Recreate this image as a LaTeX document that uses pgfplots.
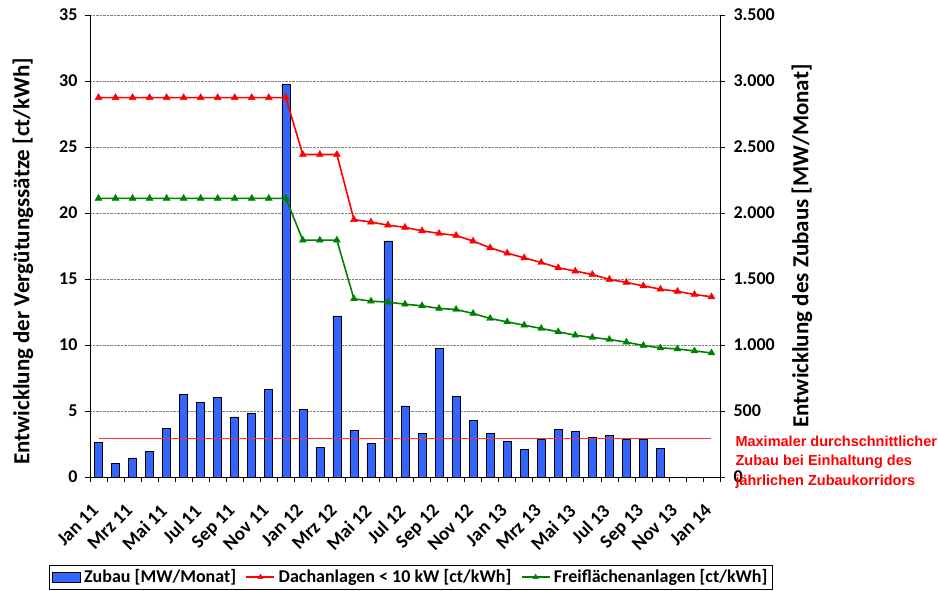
\documentclass[border=0pt]{standalone}
\usepackage{pgfplots}
\pgfplotsset{compat=1.18}
\usepackage{pgfplotstable}
\usepackage{fontspec}
\setmainfont{Carlito}
\newfontfamily\arial{Liberation Sans}
\definecolor{barblue}{RGB}{51,102,255}
\definecolor{dgreen}{RGB}{0,128,0}

\pgfplotstableread{
x val
0 260
1 100
2 144
3 195
4 371
5 627
6 566
7 606
8 455
9 480
10 662
11 2975
12 515
13 227
14 1220
15 354
16 253
17 1788
18 538
19 329
20 973
21 609
22 430
23 329
24 268
25 210
26 286
27 361
28 346
29 303
30 313
31 286
32 286
33 217
}\zubau

\pgfplotstableread{
x dach frei
0 28.74 21.11
1 28.74 21.11
2 28.74 21.11
3 28.74 21.11
4 28.74 21.11
5 28.74 21.11
6 28.74 21.11
7 28.74 21.11
8 28.74 21.11
9 28.74 21.11
10 28.74 21.11
11 28.74 21.11
12 24.43 17.94
13 24.43 17.94
14 24.43 17.94
15 19.50 13.50
16 19.31 13.32
17 19.08 13.25
18 18.91 13.09
19 18.65 12.97
20 18.45 12.77
21 18.30 12.69
22 17.87 12.39
23 17.36 12.01
24 16.96 11.75
25 16.60 11.50
26 16.25 11.25
27 15.85 11.00
28 15.60 10.74
29 15.34 10.57
30 14.97 10.42
31 14.74 10.21
32 14.48 9.96
33 14.23 9.78
34 14.06 9.70
35 13.83 9.55
36 13.65 9.40
}\tarif

\pgfplotstableread{
x val
0 291.7
36 291.7
}\korridor

\begin{document}
\begin{tikzpicture}
\pgfplotsset{
  common/.style={
    scale only axis, width=630pt, height=462pt,
    xmin=-0.5, xmax=36.5,
    tick align=outside,
    major tick length=5pt, minor tick length=5pt,
    /pgf/number format/assume math mode=true,
    tick label style={font=\bfseries\fontsize{18}{18}\selectfont},
    label style={font=\bfseries\fontsize{23}{23}\selectfont},
    axis line style={black, line width=0.8pt},
    tick style={black, line width=0.6pt},
    clip mode=individual,
  }
}
\begin{axis}[common,
  axis y line*=right, axis x line*=bottom,
  ymin=0, ymax=3500, ytick={0,500,...,3500},
  ymajorgrids, grid style={gray, densely dotted, line width=0.6pt},
  yticklabel style={/pgf/number format/1000 sep={.}, xshift=5pt},
  xtick={0,2,...,36},
  xticklabels={Jan 11,Mrz 11,Mai 11,Jul 11,Sep 11,Nov 11,Jan 12,Mrz 12,Mai 12,Jul 12,Sep 12,Nov 12,Jan 13,Mrz 13,Mai 13,Jul 13,Sep 13,Nov 13,Jan 14},
  xticklabel style={rotate=45, anchor=north east, font=\bfseries\fontsize{19}{19}\selectfont, yshift=-6pt, xshift=-17pt},
  major x tick style={draw=none},
  minor xtick={-0.5,0.5,...,36.5},
  ylabel={Entwicklung des Zubaus [MW/Monat]},
  ylabel shift=10pt,
]
\addplot[ybar, bar width=8pt, fill=barblue, draw=black, line width=0.6pt] table[x=x, y=val] {\zubau};
\addplot[red!80, line width=1pt] table[x=x, y=val] {\korridor};
\node[anchor=west, align=left, text=red, font=\arial\bfseries\fontsize{14.5}{19.5}\selectfont]
  at (rel axis cs:1,0) [xshift=12pt, yshift=15pt] {Maximaler durchschnittlicher\\Zubau bei Einhaltung des\\jährlichen Zubaukorridors};
\end{axis}
\begin{axis}[common,
  axis y line*=left, axis x line=none,
  ymin=0, ymax=35, ytick={0,5,...,35},
  yticklabel style={xshift=-4pt},
  ylabel={Entwicklung der Vergütungssätze [ct/kWh]},
  ylabel style={at={(ticklabel cs:0.467,19pt)}},
  legend columns=3,
  legend style={at={(0.5087,-0.1905)}, anchor=north, draw=black, line width=0.6pt,
    font=\bfseries\fontsize{18}{18}\selectfont, inner sep=3pt,
    nodes={inner sep=1.5pt},
    /tikz/every odd column/.append style={column sep=2pt},
    /tikz/every even column/.append style={column sep=8pt}},
]
\addlegendimage{legend image code/.code={\draw[fill=barblue, draw=black, line width=0.6pt] (0pt,-5pt) rectangle (28pt,5pt);}}
\addlegendentry{Zubau [MW/Monat]}
\addplot[red, line width=1.6pt, mark=triangle*, mark size=4pt, mark options={line width=0.4pt},
  legend image code/.code={\draw[mark repeat=2, mark phase=2, mark size=3pt] plot coordinates {(0pt,0pt) (14pt,0pt) (28pt,0pt)};}] table[x=x, y=dach] {\tarif};
\addlegendentry{Dachanlagen < 10 kW [ct/kWh]}
\addplot[dgreen, line width=1.6pt, mark=triangle*, mark size=4pt, mark options={line width=0.4pt},
  legend image code/.code={\draw[mark repeat=2, mark phase=2, mark size=3pt] plot coordinates {(0pt,0pt) (14pt,0pt) (28pt,0pt)};}] table[x=x, y=frei] {\tarif};
\addlegendentry{Freiflächenanlagen [ct/kWh]}
\end{axis}
\pgfresetboundingbox
\path (current axis.south west) ++(-90pt,-114pt) rectangle ++(938pt,591pt);
\end{tikzpicture}
\end{document}
